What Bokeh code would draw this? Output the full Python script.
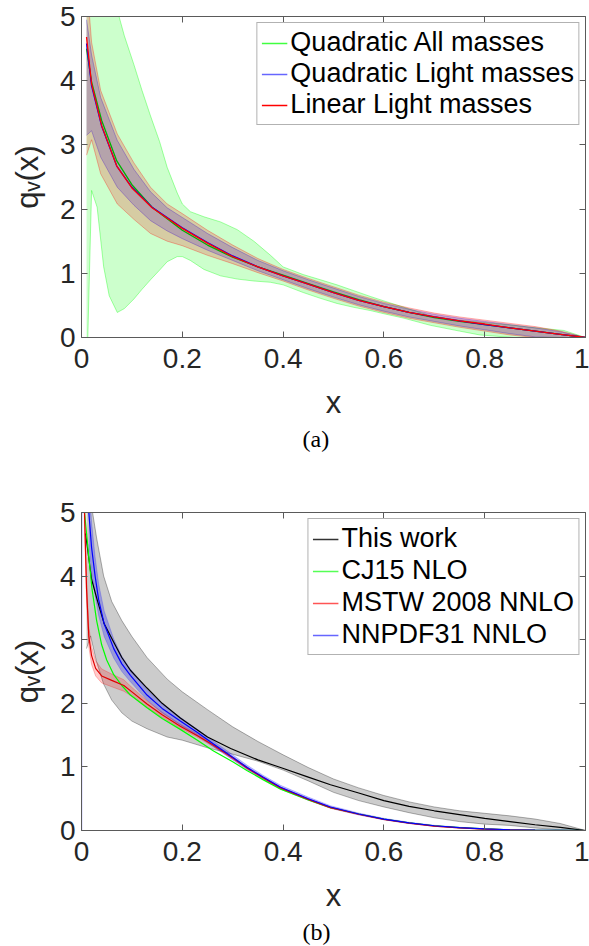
import numpy as np
from bokeh.plotting import figure
from bokeh.models import Range1d, LinearAxis, FixedTicker, Legend, LegendItem, Title
from bokeh.layouts import column
from bokeh.embed import file_html
from bokeh.resources import INLINE

# ---------------- data ----------------
X_TICKS = [0.0, 0.2, 0.4, 0.6, 0.8, 1.0]
X_TICK_LABELS = ["0", "0.2", "0.4", "0.6", "0.8", "1"]
Y_TICKS = [0, 1, 2, 3, 4, 5]

# panel (a): central curves
a_x = [0.01, 0.02, 0.04, 0.07, 0.10, 0.14, 0.20, 0.25, 0.30, 0.35, 0.40, 0.45,
       0.50, 0.55, 0.60, 0.65, 0.70, 0.75, 0.80, 0.85, 0.90, 0.95, 1.0]
lin_light = [4.68, 3.95, 3.30, 2.67, 2.33, 2.02, 1.70, 1.47, 1.26, 1.10, 0.96, 0.83,
             0.70, 0.58, 0.48, 0.39, 0.32, 0.26, 0.21, 0.15, 0.10, 0.05, 0.0]
quad_light = [4.58, 3.92, 3.29, 2.67, 2.34, 2.03, 1.71, 1.48, 1.27, 1.10, 0.96, 0.83,
              0.70, 0.58, 0.48, 0.39, 0.32, 0.26, 0.20, 0.15, 0.10, 0.05, 0.0]
quad_all = [4.50, 3.98, 3.38, 2.75, 2.38, 2.03, 1.67, 1.44, 1.25, 1.10, 0.97, 0.84,
            0.71, 0.59, 0.48, 0.39, 0.31, 0.25, 0.20, 0.15, 0.10, 0.05, 0.0]

# panel (a): "Quadratic All masses" band
qa_bx = [0.01, 0.0125, 0.02, 0.031, 0.044, 0.055, 0.071, 0.085, 0.104, 0.12, 0.137,
         0.155, 0.17, 0.19, 0.20, 0.216, 0.243, 0.276, 0.309, 0.342, 0.375, 0.40,
         0.44, 0.474, 0.507, 0.54, 0.573, 0.60, 0.64, 0.692, 0.75, 0.79, 0.857,
         0.89, 0.957, 1.0]
qa_up = [9.0, 9.0, 8.0, 7.5, 6.8, 6.1, 5.1, 4.7, 4.25, 3.85, 3.45,
         3.05, 2.65, 2.25, 2.08, 1.96, 1.88, 1.80, 1.68, 1.50, 1.28, 1.10,
         0.98, 0.90, 0.82, 0.73, 0.64, 0.57, 0.47, 0.34, 0.27, 0.24, 0.19,
         0.16, 0.11, 0.0]
qa_lo = [0.0, 0.0, 2.29, 2.03, 1.10, 0.65, 0.39, 0.45, 0.60, 0.75, 0.90,
         1.05, 1.18, 1.26, 1.26, 1.20, 1.06, 0.96, 0.91, 0.88, 0.86, 0.82,
         0.70, 0.61, 0.53, 0.47, 0.42, 0.37, 0.30, 0.19, 0.10, 0.04, 0.0,
         0.0, 0.0, 0.0]

# panel (a): light-mass bands
l_bx = [0.01, 0.02, 0.038, 0.071, 0.104, 0.137, 0.17, 0.20, 0.25, 0.30, 0.35, 0.40,
        0.45, 0.50, 0.55, 0.60, 0.65, 0.70, 0.75, 0.80, 0.85, 0.90, 0.95, 1.0]
ql_up = [4.95, 4.40, 3.74, 3.07, 2.62, 2.27, 2.02, 1.87, 1.62, 1.40, 1.20, 1.04,
         0.90, 0.77, 0.64, 0.53, 0.44, 0.36, 0.30, 0.25, 0.20, 0.15, 0.09, 0.0]
ql_lo = [3.15, 3.22, 2.81, 2.34, 2.06, 1.82, 1.66, 1.54, 1.36, 1.20, 1.04, 0.90,
         0.76, 0.63, 0.51, 0.41, 0.32, 0.25, 0.18, 0.12, 0.06, 0.01, 0.0, 0.0]
ll_up = [5.60, 4.60, 3.85, 3.17, 2.72, 2.34, 2.08, 1.93, 1.67, 1.44, 1.23, 1.06,
         0.92, 0.79, 0.66, 0.55, 0.46, 0.38, 0.32, 0.27, 0.22, 0.17, 0.10, 0.0]
ll_lo = [2.84, 3.08, 2.55, 2.08, 1.84, 1.62, 1.50, 1.43, 1.28, 1.15, 1.01, 0.88,
         0.74, 0.61, 0.49, 0.39, 0.30, 0.23, 0.16, 0.10, 0.04, 0.0, 0.0, 0.0]

# panel (b): this work
tw_x = [0.008, 0.02, 0.031, 0.045, 0.064, 0.08, 0.097, 0.13, 0.16, 0.196, 0.25, 0.296,
        0.35, 0.395, 0.45, 0.494, 0.55, 0.60, 0.65, 0.70, 0.75, 0.80, 0.85, 0.90, 0.95, 1.0]
tw_y = [4.67, 3.95, 3.63, 3.25, 2.96, 2.72, 2.52, 2.24, 2.00, 1.77, 1.47, 1.29,
        1.11, 0.99, 0.84, 0.72, 0.59, 0.47, 0.38, 0.31, 0.25, 0.19, 0.14, 0.09, 0.05, 0.0]
tw_bx = [0.01, 0.018, 0.03, 0.044, 0.06, 0.08, 0.10, 0.13, 0.17, 0.20, 0.25, 0.30, 0.35,
         0.40, 0.45, 0.50, 0.55, 0.60, 0.65, 0.70, 0.75, 0.80, 0.85, 0.90, 0.95, 1.0]
tw_up = [6.0, 5.2, 4.6, 4.0, 3.6, 3.3, 3.05, 2.72, 2.38, 2.18, 1.90, 1.63, 1.40,
         1.19, 0.99, 0.81, 0.67, 0.55, 0.45, 0.37, 0.31, 0.27, 0.23, 0.18, 0.11, 0.0]
tw_lo = [2.86, 3.06, 2.65, 2.30, 2.05, 1.85, 1.72, 1.60, 1.47, 1.42, 1.30, 1.20, 1.09,
         0.95, 0.78, 0.60, 0.47, 0.37, 0.28, 0.20, 0.14, 0.10, 0.08, 0.04, 0.01, 0.0]

# panel (b): CJ15 NLO
cj_x = [0.004, 0.006, 0.0145, 0.021, 0.03, 0.04, 0.05, 0.064, 0.08, 0.097, 0.13, 0.16,
        0.196, 0.23, 0.262, 0.30, 0.329, 0.36, 0.395, 0.45, 0.494, 0.55, 0.60, 0.65,
        0.70, 0.75, 0.80, 0.85, 0.90, 1.0]
cj_y = [5.6, 5.0, 4.30, 3.79, 3.30, 2.92, 2.68, 2.45, 2.28, 2.13, 1.93, 1.76,
        1.59, 1.42, 1.25, 1.08, 0.94, 0.80, 0.65, 0.48, 0.36, 0.26, 0.18, 0.12,
        0.075, 0.045, 0.025, 0.012, 0.005, 0.0]

# panel (b): MSTW 2008 NNLO
ms_x = [0.004, 0.006, 0.008, 0.01, 0.0145, 0.02, 0.028, 0.04, 0.06, 0.084, 0.10, 0.13,
        0.16, 0.196, 0.23, 0.262, 0.30, 0.329, 0.36, 0.395, 0.45, 0.494, 0.55, 0.60,
        0.65, 0.70, 0.75, 0.80, 0.85, 0.90, 1.0]
ms_y = [5.6, 5.0, 4.4, 3.8, 3.05, 2.75, 2.55, 2.43, 2.36, 2.28, 2.18, 1.99,
        1.82, 1.64, 1.49, 1.34, 1.14, 0.98, 0.83, 0.67, 0.49, 0.36, 0.255, 0.175,
        0.115, 0.07, 0.042, 0.023, 0.011, 0.004, 0.0]
ms_err = [0.25, 0.22, 0.20, 0.18, 0.16, 0.14, 0.12, 0.11, 0.10, 0.09, 0.07, 0.05,
          0.04, 0.03, 0.025, 0.02, 0.02, 0.015, 0.015, 0.012, 0.01, 0.01, 0.008, 0.006,
          0.005, 0.004, 0.003, 0.002, 0.001, 0.001, 0.0]

# panel (b): NNPDF31 NNLO
nn_x = [0.0, 0.0005, 0.0145, 0.02, 0.027, 0.034, 0.045, 0.064, 0.08, 0.097, 0.13, 0.16,
        0.196, 0.23, 0.262, 0.30, 0.329, 0.36, 0.395, 0.45, 0.494, 0.55, 0.60, 0.65,
        0.70, 0.75, 0.80, 0.85, 0.90, 1.0]
nn_y = [0.0, 30.0, 5.0, 4.45, 4.0, 3.63, 3.25, 2.86, 2.62, 2.44, 2.13, 1.92,
        1.72, 1.54, 1.36, 1.15, 0.99, 0.84, 0.68, 0.50, 0.37, 0.26, 0.18, 0.12,
        0.075, 0.045, 0.025, 0.012, 0.005, 0.0]
nn_err = [0.0, 0.0, 0.5, 0.4, 0.3, 0.25, 0.2, 0.15, 0.12, 0.1, 0.08, 0.07,
          0.06, 0.05, 0.045, 0.04, 0.035, 0.03, 0.03, 0.025, 0.02, 0.015, 0.012, 0.01,
          0.008, 0.006, 0.004, 0.003, 0.002, 0.0]

# ---------------- styling ----------------
FONT = "Liberation Sans"
SERIF = "Liberation Serif"
TXT = "#262626"
AXL = "#5a5a5a"
TICK_FS = "28px"
LAB_FS = "31px"
LEG_FS = "27px"

W = 589
ML, MR = 81, 4


def base_fig(height, top, frame_h, caption):
    p = figure(width=W, height=height, x_range=Range1d(0, 1), y_range=Range1d(0, 5),
               output_backend="svg", toolbar_location=None,
               min_border_left=ML, min_border_right=MR, min_border_top=top,
               min_border_bottom=height - top - frame_h)
    p.grid.grid_line_color = None
    p.outline_line_color = None
    p.background_fill_color = "white"
    p.border_fill_color = "white"
    xb = p.below[0]
    yl = p.left[0]
    for ax, ticks in ((xb, X_TICKS), (yl, Y_TICKS)):
        ax.ticker = FixedTicker(ticks=ticks)
        ax.major_tick_in = 6
        ax.major_tick_out = 0
        ax.minor_tick_line_color = None
        ax.axis_line_color = AXL
        ax.major_tick_line_color = AXL
        ax.major_label_text_font = FONT
        ax.major_label_text_font_size = TICK_FS
        ax.major_label_text_color = TXT
        ax.axis_label_text_font = FONT
        ax.axis_label_text_font_size = LAB_FS
        ax.axis_label_text_font_style = "normal"
        ax.axis_label_text_color = TXT
    xb.major_label_overrides = dict(zip(X_TICKS, X_TICK_LABELS))
    xb.major_label_standoff = 11
    yl.major_label_standoff = 6
    xb.axis_label = "x"
    xb.axis_label_standoff = 14
    yl.axis_label = "q\u1d65(x)"
    yl.axis_label_standoff = 12
    for loc, ticks in (("above", X_TICKS), ("right", Y_TICKS)):
        ax = LinearAxis(ticker=FixedTicker(ticks=ticks),
                        major_label_overrides={t: "" for t in ticks},
                        major_label_text_font_size="1px", major_label_standoff=0,
                        major_tick_in=6, major_tick_out=0,
                        minor_tick_line_color=None,
                        axis_line_color=AXL, major_tick_line_color=AXL)
        p.add_layout(ax, loc)
    p.add_layout(Title(text=caption, align="left", offset=221, text_font=SERIF,
                       text_font_size="24px", text_font_style="normal",
                       text_color="black", standoff=3), "below")
    return p


def band(p, x, lo, hi, color, alpha, edge_alpha):
    p.varea(x=x, y1=lo, y2=hi, fill_color=color, fill_alpha=alpha)
    p.line(x, hi, line_color=color, line_alpha=edge_alpha, line_width=1)
    p.line(x, lo, line_color=color, line_alpha=edge_alpha, line_width=1)


def make_legend(items, spacing):
    return Legend(items=items, location="top_right", margin=6, padding=4,
                  spacing=spacing, glyph_width=26, glyph_height=20, label_standoff=3,
                  label_text_font=FONT, label_text_font_size=LEG_FS,
                  label_text_color="#000000", border_line_color="#666666",
                  border_line_width=1, background_fill_color="white",
                  background_fill_alpha=1.0)


# ---------------- panel (a) ----------------
HA, TOPA, FHA = 475, 16, 321
pa = base_fig(HA, TOPA, FHA, "(a)")
band(pa, qa_bx, qa_lo, qa_up, "#00ff00", 0.2, 0.35)
band(pa, l_bx, ql_lo, ql_up, "#0000ff", 0.2, 0.3)
band(pa, l_bx, ll_lo, ll_up, "#ff0000", 0.2, 0.3)
pa.line(a_x, quad_all, line_color="#00b000", line_width=1.3)
pa.line(a_x, quad_light, line_color="#0000ff", line_width=1.3)
pa.line(a_x, lin_light, line_color="#ff0000", line_width=1.3)
# legend swatches (single point -> nothing drawn in the plot area)
lg_g = pa.line(a_x[-1:], quad_all[-1:], line_color="#00ff00", line_alpha=0.75, line_width=1.3)
lg_b = pa.line(a_x[-1:], quad_light[-1:], line_color="#0000ff", line_alpha=0.6, line_width=1.3)
lg_r = pa.line(a_x[-1:], lin_light[-1:], line_color="#ff0000", line_width=1.3)
pa.add_layout(make_legend([
    LegendItem(label="Quadratic All masses", renderers=[lg_g]),
    LegendItem(label="Quadratic Light masses", renderers=[lg_b]),
    LegendItem(label="Linear Light masses", renderers=[lg_r]),
], -1))

# ---------------- panel (b) ----------------
HB, TOPB, FHB = 471, 37, 322
pb = base_fig(HB, TOPB, FHB, "(b)")
band(pb, tw_bx, tw_lo, tw_up, "#000000", 0.2, 0.3)
ms_lo = [m - e for m, e in zip(ms_y, ms_err)]
ms_hi = [m + e for m, e in zip(ms_y, ms_err)]
band(pb, ms_x, ms_lo, ms_hi, "#ff0000", 0.2, 0.25)
nn_lo = [m - e for m, e in zip(nn_y[2:], nn_err[2:])]
nn_hi = [m + e for m, e in zip(nn_y[2:], nn_err[2:])]
band(pb, nn_x[2:], nn_lo, nn_hi, "#0000ff", 0.25, 0.2)
pb.line(tw_x, tw_y, line_color="#000000", line_width=1.2)
pb.line(cj_x, cj_y, line_color="#00ff00", line_width=1.2)
pb.line(ms_x, ms_y, line_color="#e00000", line_width=1.2)
pb.line(nn_x, nn_y, line_color="#0000ff", line_width=1.2)
lb_k = pb.line(tw_x[-1:], tw_y[-1:], line_color="#333333", line_width=1.3)
lb_g = pb.line(cj_x[-1:], cj_y[-1:], line_color="#55ff55", line_width=1.3)
lb_r = pb.line(ms_x[-1:], ms_y[-1:], line_color="#ff5555", line_width=1.3)
lb_b = pb.line(nn_x[-1:], nn_y[-1:], line_color="#6666ff", line_width=1.3)
pb.add_layout(make_legend([
    LegendItem(label="This work", renderers=[lb_k]),
    LegendItem(label="CJ15 NLO", renderers=[lb_g]),
    LegendItem(label="MSTW 2008 NNLO", renderers=[lb_r]),
    LegendItem(label="NNPDF31 NNLO", renderers=[lb_b]),
], 1))

layout = column(pa, pb, spacing=0)
open("out.html", "w").write(file_html(layout, INLINE))
